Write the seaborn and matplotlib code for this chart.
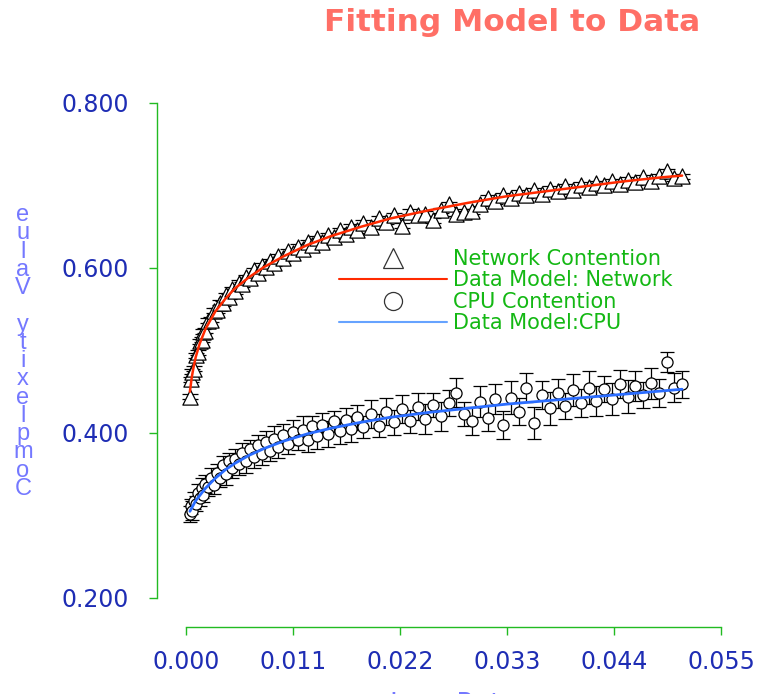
import matplotlib
matplotlib.use("Agg")
import matplotlib.pyplot as plt
import seaborn as sns
from matplotlib.lines import Line2D

# ---------------- data ----------------
load_x = [0.0004, 0.0005, 0.0006, 0.0008, 0.0010, 0.0012, 0.0014, 0.0016, 0.0018, 0.0020,
          0.0023, 0.0026, 0.0029, 0.0032, 0.0035, 0.0038, 0.0041, 0.0044, 0.0047, 0.0050,
          0.0054, 0.0058, 0.0062, 0.0066, 0.0070, 0.0074, 0.0078, 0.0082, 0.0086, 0.0090,
          0.0095, 0.0100, 0.0105, 0.0110, 0.0115, 0.0120, 0.0125, 0.0130, 0.0135, 0.0140,
          0.0146, 0.0152, 0.0158, 0.0164, 0.0170, 0.0176, 0.0182, 0.0190, 0.0198, 0.0206,
          0.0214, 0.0222, 0.0230, 0.0238, 0.0246, 0.0254, 0.0262, 0.0270, 0.0278, 0.0286,
          0.0294, 0.0302, 0.0310, 0.0318, 0.0326, 0.0334, 0.0342, 0.0350, 0.0358, 0.0366,
          0.0374, 0.0382, 0.0390, 0.0398, 0.0406, 0.0414, 0.0422, 0.0430, 0.0438, 0.0446,
          0.0454, 0.0462, 0.0470, 0.0478, 0.0486, 0.0494, 0.0502, 0.0510]

net_y = [0.444, 0.465, 0.474, 0.478, 0.494, 0.498, 0.511, 0.513, 0.523, 0.524,
         0.536, 0.537, 0.548, 0.549, 0.558, 0.557, 0.567, 0.565, 0.574, 0.572,
         0.582, 0.580, 0.589, 0.588, 0.597, 0.594, 0.603, 0.601, 0.608, 0.606,
         0.614, 0.612, 0.620, 0.618, 0.626, 0.623, 0.631, 0.628, 0.636, 0.632,
         0.640, 0.637, 0.646, 0.641, 0.650, 0.646, 0.655, 0.650, 0.660, 0.656,
         0.664, 0.651, 0.668, 0.664, 0.666, 0.658, 0.670, 0.677, 0.666, 0.668,
         0.669, 0.678, 0.685, 0.681, 0.688, 0.685, 0.691, 0.688, 0.694, 0.690,
         0.696, 0.693, 0.699, 0.695, 0.701, 0.698, 0.703, 0.700, 0.705, 0.702,
         0.707, 0.704, 0.710, 0.706, 0.711, 0.717, 0.709, 0.711]
net_err = 0.003

cpu_y = [0.302, 0.311, 0.306, 0.318, 0.314, 0.327, 0.321, 0.333, 0.325, 0.338,
         0.334, 0.346, 0.337, 0.352, 0.346, 0.361, 0.350, 0.366, 0.357, 0.369,
         0.362, 0.376, 0.366, 0.381, 0.371, 0.386, 0.375, 0.389, 0.378, 0.393,
         0.383, 0.397, 0.387, 0.401, 0.392, 0.404, 0.391, 0.408, 0.396, 0.410,
         0.399, 0.414, 0.402, 0.416, 0.405, 0.419, 0.407, 0.423, 0.409, 0.426,
         0.413, 0.429, 0.414, 0.432, 0.417, 0.434, 0.420, 0.436, 0.449, 0.423,
         0.414, 0.438, 0.418, 0.441, 0.410, 0.443, 0.426, 0.455, 0.412, 0.446,
         0.430, 0.448, 0.433, 0.452, 0.436, 0.455, 0.439, 0.453, 0.441, 0.459,
         0.444, 0.457, 0.446, 0.460, 0.448, 0.486, 0.455, 0.459]
cpu_err = [0.010, 0.009, 0.011, 0.010, 0.009, 0.011, 0.010, 0.012, 0.009, 0.011,
           0.010, 0.012, 0.011, 0.010, 0.012, 0.011, 0.013, 0.010, 0.012, 0.011,
           0.013, 0.012, 0.014, 0.011, 0.013, 0.012, 0.014, 0.013, 0.012, 0.015,
           0.013, 0.014, 0.012, 0.015, 0.013, 0.016, 0.014, 0.013, 0.015, 0.014,
           0.016, 0.013, 0.015, 0.014, 0.016, 0.015, 0.013, 0.017, 0.014, 0.016,
           0.015, 0.017, 0.014, 0.016, 0.018, 0.015, 0.017, 0.016, 0.018, 0.015,
           0.017, 0.019, 0.016, 0.018, 0.017, 0.020, 0.016, 0.018, 0.019, 0.017,
           0.020, 0.018, 0.016, 0.019, 0.017, 0.020, 0.018, 0.016, 0.019, 0.017,
           0.020, 0.018, 0.016, 0.019, 0.017, 0.012, 0.018, 0.016]

net_model_x = [0.0004, 0.0006, 0.0008, 0.0010, 0.0014, 0.0020, 0.0030, 0.0040, 0.0050, 0.0065,
               0.0080, 0.0100, 0.0125, 0.0150, 0.0180, 0.0210, 0.0250, 0.0290, 0.0330, 0.0370,
               0.0410, 0.0450, 0.0490, 0.0510]
net_model_y = [0.450, 0.468, 0.481, 0.492, 0.508, 0.526, 0.547, 0.562, 0.575, 0.589,
               0.601, 0.614, 0.628, 0.639, 0.650, 0.660, 0.670, 0.679, 0.687, 0.693,
               0.699, 0.705, 0.710, 0.712]
cpu_model_x = [0.0004, 0.0010, 0.0020, 0.0030, 0.0040, 0.0050, 0.0065, 0.0080, 0.0100, 0.0125,
               0.0150, 0.0180, 0.0210, 0.0250, 0.0290, 0.0330, 0.0370, 0.0410, 0.0450, 0.0490,
               0.0510]
cpu_model_y = [0.305, 0.318, 0.333, 0.345, 0.355, 0.363, 0.373, 0.381, 0.390, 0.399,
               0.406, 0.413, 0.419, 0.425, 0.430, 0.435, 0.439, 0.443, 0.447, 0.451,
               0.453]

x_ticks = [0.000, 0.011, 0.022, 0.033, 0.044, 0.055]
x_tick_labels = ["0.000", "0.011", "0.022", "0.033", "0.044", "0.055"]
y_ticks = [0.2, 0.4, 0.6, 0.8]
y_tick_labels = ["0.200", "0.400", "0.600", "0.800"]
title_text = "Fitting Model to Data"
x_label = "Loss Rate"
y_label = "Complexity Value"
legend_labels = ["Network Contention", "Data Model: Network", "CPU Contention", "Data Model:CPU"]

# ---------------- style ----------------
RED = "#ff2a00"
BLUE = "#2a6cff"
LIGHT_BLUE = "#66a3ff"
GREEN = "#22bb22"
LEG_GREEN = "#14b814"
TICK_BLUE = "#1e2db4"
LABEL_BLUE = "#7478ff"
TITLE_COLOR = "#ff6f66"

sns.set_theme(style="white")
plt.rcParams["font.family"] = ["DejaVu Sans"]

W, H = 759, 694
fig = plt.figure(figsize=(W / 100, H / 100), dpi=100)
fig.patch.set_facecolor("white")
ax = fig.add_axes([157 / W, 1 - 627 / H, (721 - 157) / W, (627 - 103) / H])
ax.set_facecolor("white")

ax.errorbar(load_x, net_y, yerr=net_err, fmt="none", ecolor="black",
            elinewidth=0.9, capsize=5.5, capthick=0.9, zorder=2)
ax.errorbar(load_x, cpu_y, yerr=cpu_err, fmt="none", ecolor="black",
            elinewidth=0.9, capsize=5, capthick=0.9, zorder=2)

sns.scatterplot(x=load_x, y=net_y, ax=ax, marker="^", s=120, facecolor="white",
                edgecolor="black", linewidth=0.9, zorder=3, legend=False)
sns.scatterplot(x=load_x, y=cpu_y, ax=ax, marker="o", s=64, facecolor="white",
                edgecolor="black", linewidth=0.9, zorder=3, legend=False)

sns.lineplot(x=net_model_x, y=net_model_y, ax=ax, color=RED, linewidth=1.8,
             estimator=None, sort=False, zorder=4)
sns.lineplot(x=cpu_model_x, y=cpu_model_y, ax=ax, color=BLUE, linewidth=2.0,
             estimator=None, sort=False, zorder=4)

ax.set_xlim(-0.00298, 0.055)
ax.set_ylim(0.1648, 0.8)
ax.set_xlabel("")
ax.set_ylabel("")

for s in ["top", "right"]:
    ax.spines[s].set_visible(False)
for s in ["left", "bottom"]:
    ax.spines[s].set_color(GREEN)
    ax.spines[s].set_linewidth(1.0)
ax.spines["left"].set_bounds(0.2, 0.8)
ax.spines["bottom"].set_bounds(0.0, 0.055)

ax.set_xticks(x_ticks)
ax.set_xticklabels(x_tick_labels)
ax.set_yticks(y_ticks)
ax.set_yticklabels(y_tick_labels)
ax.tick_params(axis="both", which="major", direction="out", length=5.5, width=1,
               color=GREEN, labelcolor=TICK_BLUE, labelsize=17,
               bottom=True, left=True, top=False, right=False)
ax.tick_params(axis="y", pad=15)
ax.tick_params(axis="x", pad=11)

# title
fig.text(512 / W, 1 - 31 / H, title_text, ha="center", va="baseline",
         fontsize=22.5, fontweight="bold", color=TITLE_COLOR)

# y label: characters stacked upward as in the original (one text object)
stacked = "\n".join(reversed(list(y_label)))
fig.text(23 / W, 1 - 352 / H, stacked, ha="center", va="center", fontsize=17,
         family=["Liberation Sans", "DejaVu Sans"], color=LABEL_BLUE,
         linespacing=0.78, multialignment="center")

# x label (mostly below the canvas edge, as in the original)
fig.text(453 / W, 1 - 712 / H, x_label, ha="center", va="baseline",
         fontsize=19, color=LABEL_BLUE)

# legend
handles = [
    Line2D([], [], linestyle="none", marker="^", markersize=14, markerfacecolor="white",
           markeredgecolor="#333333", markeredgewidth=0.9),
    Line2D([], [], color=RED, linewidth=1.5),
    Line2D([], [], linestyle="none", marker="o", markersize=13, markerfacecolor="white",
           markeredgecolor="#333333", markeredgewidth=0.9),
    Line2D([], [], color=LIGHT_BLUE, linewidth=1.5),
]
leg = fig.legend(handles, legend_labels, loc="upper left",
                 bbox_to_anchor=(339 / W, 1 - 249 / H), frameon=False, fontsize=15,
                 handlelength=5.2, handletextpad=0.26, labelspacing=0.07,
                 borderpad=0, borderaxespad=0)
for t in leg.get_texts():
    t.set_color(LEG_GREEN)

fig.savefig("out.png", dpi=100)
